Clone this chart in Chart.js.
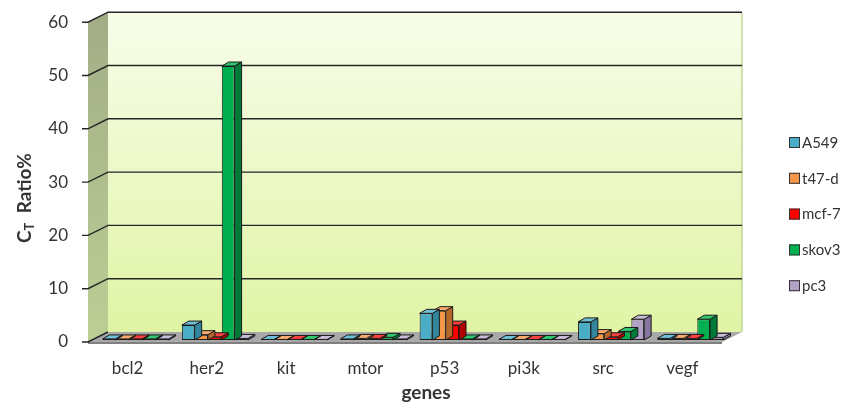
<!DOCTYPE html>
<html>
<head>
<meta charset="utf-8">
<script src="https://cdn.jsdelivr.net/npm/chart.js@4.4.0/dist/chart.umd.min.js"></script>
<style>
  html, body { margin: 0; padding: 0; background: #fff; }
  #wrap { width: 848px; height: 408px; }
</style>
</head>
<body>
<div id="wrap"><canvas id="chart" width="848" height="408"></canvas></div>
<script>
// Data
const genes = ['bcl2', 'her2', 'kit', 'mtor', 'p53', 'pi3k', 'src', 'vegf'];
const a549  = [0.2, 2.8, 0.1, 0.2, 5.0, 0.1, 3.4, 0.3];
const t47d  = [0.2, 1.0, 0.1, 0.3, 5.5, 0.1, 1.2, 0.3];
const mcf7  = [0.2, 0.6, 0.1, 0.3, 2.8, 0.1, 0.6, 0.3];
const skov3 = [0.2, 51.4, 0.1, 0.5, 0.2, 0.1, 1.6, 3.9];
const pc3   = [0.2, 0.3, 0.1, 0.2, 0.2, 0.1, 3.9, 0.5];
const yTicks = [0, 10, 20, 30, 40, 50, 60];

const seriesNames = ['A549', 't47-d', 'mcf-7', 'skov3', 'pc3'];
const fronts = ['#4BACC6', '#F79646', '#FF0000', '#00B050', '#B3A2C7'];
const sides  = ['#31859C', '#B8672A', '#B00000', '#007A38', '#8676A0'];
const tops   = ['#6FC0D6', '#F9AB6E', '#FF4040', '#2FC870', '#C8BCD8'];

const DEPTH_X = 20, DEPTH_Y = -10;   // wall depth
const BAR_DX = 7, BAR_DY = -4;        // bar depth
const SHIFT_X = 8, SHIFT_Y = -2;      // bars sit a bit back from the front edge

// walls, floor and gridlines behind the bars
const wallsPlugin = {
  id: 'walls',
  beforeDatasetsDraw(chart) {
    const { ctx, chartArea: a, scales: { y } } = chart;
    ctx.save();
    // side wall
    let g = ctx.createLinearGradient(0, a.top, 0, a.bottom);
    g.addColorStop(0, '#a3ae86');
    g.addColorStop(1, '#bccf95');
    ctx.fillStyle = g;
    ctx.beginPath();
    ctx.moveTo(a.left, a.top);
    ctx.lineTo(a.left + DEPTH_X, a.top + DEPTH_Y);
    ctx.lineTo(a.left + DEPTH_X, a.bottom + DEPTH_Y);
    ctx.lineTo(a.left, a.bottom);
    ctx.closePath();
    ctx.fill();
    // back wall
    g = ctx.createLinearGradient(0, a.top + DEPTH_Y, 0, a.bottom + DEPTH_Y);
    g.addColorStop(0, '#f8fdea');
    g.addColorStop(1, '#e0f4a4');
    ctx.fillStyle = g;
    ctx.fillRect(a.left + DEPTH_X, a.top + DEPTH_Y, a.right - a.left, a.bottom - a.top);
    ctx.strokeStyle = '#c2d69a';
    ctx.lineWidth = 1.5;
    ctx.beginPath();
    ctx.moveTo(a.right + DEPTH_X, a.top + DEPTH_Y);
    ctx.lineTo(a.right + DEPTH_X, a.bottom + DEPTH_Y);
    ctx.stroke();
    // floor
    ctx.fillStyle = '#a9a9a9';
    ctx.beginPath();
    ctx.moveTo(a.left, a.bottom);
    ctx.lineTo(a.left + DEPTH_X, a.bottom + DEPTH_Y);
    ctx.lineTo(a.right + DEPTH_X, a.bottom + DEPTH_Y);
    ctx.lineTo(a.right, a.bottom);
    ctx.closePath();
    ctx.fill();
    ctx.fillStyle = '#808080';
    ctx.fillRect(a.left, a.bottom, a.right - a.left, 2);
    // gridlines: tick, slant on side wall, line along back wall
    ctx.strokeStyle = '#262626';
    ctx.lineWidth = 1.4;
    yTicks.forEach(v => {
      const py = y.getPixelForValue(v);
      ctx.beginPath();
      ctx.moveTo(a.left - 6, py);
      ctx.lineTo(a.left, py);
      ctx.lineTo(a.left + DEPTH_X, py + DEPTH_Y);
      if (v > 0) ctx.lineTo(a.right + DEPTH_X, py + DEPTH_Y);
      ctx.stroke();
    });
    ctx.restore();
    // bars are drawn slightly behind the front plane
    ctx.save();
    ctx.translate(SHIFT_X, SHIFT_Y);
  },
  afterDatasetDraw(chart, args) {
    const { ctx } = chart;
    const i = args.index;
    const base = chart.scales.y.getPixelForValue(0);
    chart.getDatasetMeta(i).data.forEach(bar => {
      const x1 = bar.x - bar.width / 2, x2 = bar.x + bar.width / 2, t = bar.y;
      ctx.save();
      ctx.lineWidth = 1;
      ctx.strokeStyle = '#1a1a1a';
      // side face
      ctx.fillStyle = sides[i];
      ctx.beginPath();
      ctx.moveTo(x2, t);
      ctx.lineTo(x2 + BAR_DX, t + BAR_DY);
      ctx.lineTo(x2 + BAR_DX, base + BAR_DY);
      ctx.lineTo(x2, base);
      ctx.closePath();
      ctx.fill();
      ctx.stroke();
      // top face
      ctx.fillStyle = tops[i];
      ctx.beginPath();
      ctx.moveTo(x1, t);
      ctx.lineTo(x1 + BAR_DX, t + BAR_DY);
      ctx.lineTo(x2 + BAR_DX, t + BAR_DY);
      ctx.lineTo(x2, t);
      ctx.closePath();
      ctx.fill();
      ctx.stroke();
      ctx.restore();
    });
  },
  afterDatasetsDraw(chart) {
    chart.ctx.restore();
  },
  afterDraw(chart) {
    const { ctx } = chart;
    ctx.save();
    // legend
    ctx.font = '15px Lato';
    ctx.textBaseline = 'middle';
    ctx.textAlign = 'left';
    seriesNames.forEach((name, i) => {
      const cy = 142 + i * 35.8;
      ctx.fillStyle = fronts[i];
      ctx.fillRect(789, cy - 5, 11, 11);
      ctx.strokeStyle = '#333';
      ctx.lineWidth = 1;
      ctx.strokeRect(789.5, cy - 4.5, 10, 10);
      ctx.fillStyle = '#333';
      ctx.fillText(name, 802, cy + 1);
    });
    // x title
    ctx.font = 'bold 19px Lato';
    ctx.textAlign = 'center';
    ctx.textBaseline = 'middle';
    ctx.fillText('genes', 426, 393);
    // y title with subscript
    ctx.translate(25, 198);
    ctx.rotate(-Math.PI / 2);
    ctx.textAlign = 'left';
    const big = 'bold 19px Lato', small = 'bold 13px Lato';
    ctx.font = big;
    const wC = ctx.measureText('C').width;
    const wR = ctx.measureText('  Ratio%').width;
    ctx.font = small;
    const wT = ctx.measureText('T').width;
    let x = -(wC + wT + wR) / 2;
    ctx.font = big;
    ctx.fillText('C', x, 0);
    x += wC;
    ctx.font = small;
    ctx.fillText('T', x, 5);
    x += wT;
    ctx.font = big;
    ctx.fillText('  Ratio%', x, 0);
    ctx.restore();
  }
};

const ctx = document.getElementById('chart').getContext('2d');
const datasets = [a549, t47d, mcf7, skov3, pc3].map((vals, i) => ({
  label: seriesNames[i],
  data: vals,
  backgroundColor: fronts[i],
  borderColor: '#1a1a1a',
  borderWidth: 1,
  borderSkipped: false,
  clip: false
}));

new Chart(ctx, {
  type: 'bar',
  data: { labels: genes, datasets: datasets },
  options: {
    responsive: false,
    animation: false,
    categoryPercentage: 0.84,
    barPercentage: 0.96,
    layout: { padding: { left: 0, right: 126, top: 22, bottom: 0 } },
    scales: {
      x: {
        grid: { display: false },
        border: { display: false },
        ticks: { font: { family: 'Lato', size: 17 }, color: '#333', padding: 8 },
        afterFit(scale) { scale.height = 66; }
      },
      y: {
        min: 0,
        max: 60,
        grid: { display: false },
        border: { display: false },
        ticks: { stepSize: 10, font: { family: 'Lato', size: 17 }, color: '#333', padding: 12 },
        afterFit(scale) { scale.width = 88; }
      }
    },
    plugins: {
      legend: { display: false },
      tooltip: { enabled: false }
    }
  },
  plugins: [wallsPlugin]
});
</script>
</body>
</html>
